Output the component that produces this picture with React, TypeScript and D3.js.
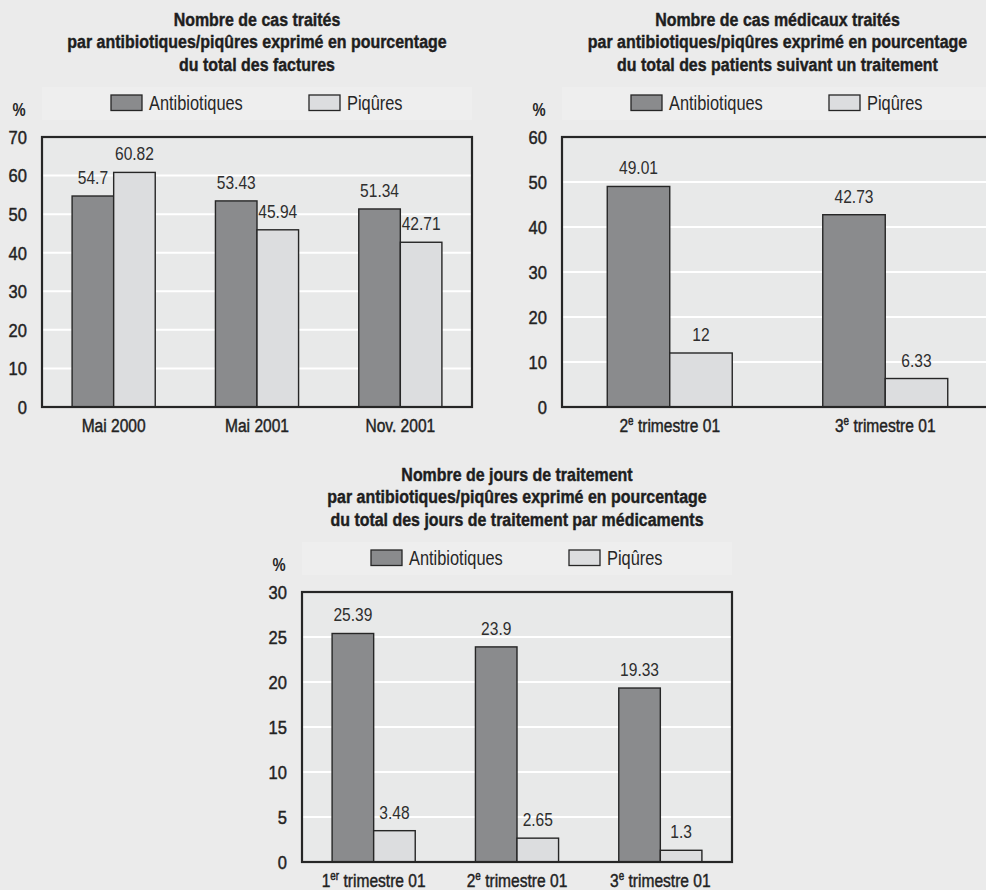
import React from 'react';
import * as d3 from 'd3';

// ---- Panel 1: cases treated, share of all invoices ----
const titleCases = [
  'Nombre de cas traités',
  'par antibiotiques/piqûres exprimé en pourcentage',
  'du total des factures',
];
const casesCategories = ['Mai 2000', 'Mai 2001', 'Nov. 2001'];
const casesAntibiotiques = [54.7, 53.43, 51.34];
const casesPiqures = [60.82, 45.94, 42.71];
const casesTicks = [0, 10, 20, 30, 40, 50, 60, 70];

// ---- Panel 2: medical cases, share of treated patients ----
const titleMedical = [
  'Nombre de cas médicaux traités',
  'par  antibiotiques/piqûres exprimé en pourcentage',
  'du total des patients suivant un traitement',
];
const medicalCategories = ['2e trimestre 01', '3e trimestre 01'];
const medicalAntibiotiques = [49.01, 42.73];
const medicalPiqures = [12, 6.33];
const medicalTicks = [0, 10, 20, 30, 40, 50, 60];

// ---- Panel 3: treatment days, share of all drug treatment days ----
const titleDays = [
  'Nombre de jours de traitement',
  'par antibiotiques/piqûres exprimé en pourcentage',
  'du total des jours de traitement par médicaments',
];
const daysCategories = ['1er trimestre 01', '2e trimestre 01', '3e trimestre 01'];
const daysAntibiotiques = [25.39, 23.9, 19.33];
const daysPiqures = [3.48, 2.65, 1.3];
const daysTicks = [0, 5, 10, 15, 20, 25, 30];

const seriesNames = ['Antibiotiques', 'Piqûres'];

const FONT = "'Liberation Sans', Arial, Helvetica, sans-serif";
const BG = '#ebebeb';
const PLOT_BG = '#e8e9e9';
const DARK = '#8a8b8d';
const LIGHT = '#dcdddf';
const INK = '#262626';

type TProps = {
  x: number;
  y: number;
  size: number;
  bold?: boolean;
  medium?: boolean;
  squeeze?: number;
  anchor?: 'start' | 'middle' | 'end';
  dy?: string;
  fill?: string;
  children: React.ReactNode;
};

// Condensed text: drawn at its anchor point, squeezed horizontally
function T({ x, y, size, bold, medium, squeeze = 0.82, anchor = 'start', dy, fill = INK, children }: TProps) {
  return (
    <text
      transform={`translate(${x},${y}) scale(${squeeze},1)`}
      dy={dy}
      textAnchor={anchor}
      fontFamily={FONT}
      fontWeight={bold ? 'bold' : 'normal'}
      fontSize={size}
      fill={fill}
      stroke={medium ? fill : 'none'}
      strokeWidth={medium ? 0.45 : 0}
    >
      {children}
    </text>
  );
}

// "2e trimestre 01" -> number, superscript, rest
function splitOrdinal(label: string) {
  const m = label.match(/^(\d+)(er|e)(.*)$/);
  if (!m) return null;
  return { n: m[1], sup: m[2], rest: m[3] };
}

type PanelProps = {
  title: string[];
  categories: string[];
  antibiotiques: number[];
  piqures: number[];
  ticks: number[];
  x0: number;
  x1: number;
  y0: number;
  y1: number;
};

function Panel({ title, categories, antibiotiques, piqures, ticks, x0, x1, y0, y1 }: PanelProps) {
  const yMax = d3.max(ticks) as number;
  const y = d3.scaleLinear().domain([0, yMax]).range([y1, y0]);
  const x = d3.scaleBand<string>().domain(categories).range([x0, x1]).paddingInner(0).paddingOuter(0);
  const step = x.step();
  const bw = step * 0.29;
  const cx = (x0 + x1) / 2;
  const visRight = Math.min(x1, 986);

  const bars = categories.flatMap((c, i) => {
    const center = (x(c) as number) + step / 2;
    return [
      { key: c + '-a', x: center - bw, v: antibiotiques[i], fill: DARK },
      { key: c + '-p', x: center, v: piqures[i], fill: LIGHT },
    ];
  });

  const legendX = [x0 + 69, x0 + 267];
  const legendFill = [DARK, LIGHT];

  return (
    <g>
      {/* title */}
      {title.map((t, i) => (
        <T key={i} x={cx} y={y0 - 111} dy={`${(i * 22.4) / 19}em`} size={19} bold medium squeeze={0.84} anchor="middle" fill="#1e1e1e">
          {t}
        </T>
      ))}

      {/* legend band */}
      <rect x={x0} y={y0 - 50} width={visRight - x0} height={33} fill="#eeeeee" />
      {seriesNames.map((s, i) => (
        <g key={s}>
          <rect
            x={legendX[i]}
            y={y0 - 42}
            width={31}
            height={15.5}
            fill={legendFill[i]}
            stroke={INK}
            strokeWidth={1.3}
          />
          <T x={legendX[i] + 38} y={y0 - 27.5} size={20}>
            {s}
          </T>
        </g>
      ))}

      {/* unit */}
      <T x={x0 - 23} y={y0 - 21.5} size={18} bold anchor="middle">
        %
      </T>

      {/* plot area */}
      <rect x={x0} y={y0} width={x1 - x0} height={y1 - y0} fill={PLOT_BG} />
      {ticks
        .filter((t) => t !== 0 && t !== yMax)
        .map((t) => (
          <line key={t} x1={x0} x2={x1} y1={y(t)} y2={y(t)} stroke="#ffffff" strokeWidth={2} />
        ))}

      {/* bars */}
      {bars.map((b) => (
        <rect
          key={b.key}
          x={b.x}
          y={y(b.v)}
          width={bw}
          height={y1 - y(b.v)}
          fill={b.fill}
          stroke={INK}
          strokeWidth={1.4}
        />
      ))}

      {/* value labels */}
      {bars.map((b) => (
        <T key={b.key + '-lbl'} x={b.x + bw / 2} y={y(b.v) - 12} size={19} anchor="middle" fill="#2e2e2e">
          {String(b.v)}
        </T>
      ))}

      {/* frame */}
      <rect x={x0} y={y0} width={x1 - x0} height={y1 - y0} fill="none" stroke={INK} strokeWidth={2.2} />

      {/* y tick labels */}
      {ticks.map((t) => (
        <T key={t} x={x0 - 15} y={y(t)} dy="0.36em" size={19} medium squeeze={0.87} anchor="end" fill="#222">
          {t}
        </T>
      ))}

      {/* category labels */}
      {categories.map((c) => {
        const parts = splitOrdinal(c);
        const px = (x(c) as number) + step / 2;
        return (
          <T key={c} x={px} y={y1 + 25} size={19} medium anchor="middle" fill="#222">
            {parts ? (
              <>
                {parts.n}
                <tspan fontSize={12} dy={-7}>
                  {parts.sup}
                </tspan>
                <tspan dy={7}>{parts.rest}</tspan>
              </>
            ) : (
              c
            )}
          </T>
        );
      })}
    </g>
  );
}

export default function App() {
  return (
    <svg
      width={986}
      height={890}
      viewBox="0 0 986 890"
      style={{ display: 'block', position: 'absolute', left: 0, top: 0 }}
    >
      <rect x={0} y={0} width={986} height={890} fill={BG} />
      <Panel
        title={titleCases}
        categories={casesCategories}
        antibiotiques={casesAntibiotiques}
        piqures={casesPiqures}
        ticks={casesTicks}
        x0={42}
        x1={472}
        y0={137}
        y1={407}
      />
      <Panel
        title={titleMedical}
        categories={medicalCategories}
        antibiotiques={medicalAntibiotiques}
        piqures={medicalPiqures}
        ticks={medicalTicks}
        x0={562}
        x1={993}
        y0={137}
        y1={407}
      />
      <Panel
        title={titleDays}
        categories={daysCategories}
        antibiotiques={daysAntibiotiques}
        piqures={daysPiqures}
        ticks={daysTicks}
        x0={302}
        x1={732}
        y0={592}
        y1={862}
      />
    </svg>
  );
}
